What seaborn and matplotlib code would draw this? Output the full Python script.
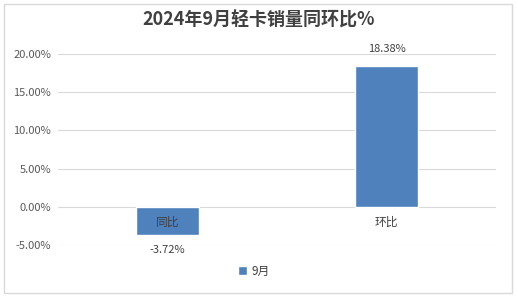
import matplotlib
matplotlib.use("Agg")
import matplotlib.pyplot as plt
import seaborn as sns
import pandas as pd
from matplotlib.patches import Rectangle

categories = ["同比", "环比"]
values = [-3.72, 18.38]
series_name = "9月"
yticks = [-5, 0, 5, 10, 15, 20]
title = "2024年9月轻卡销量同环比%"

sns.set_theme(style="white")
plt.rcParams['font.family'] = ['Noto Sans CJK SC', 'DejaVu Sans']

df = pd.DataFrame({"cat": categories, "val": values, "series": series_name})

fig = plt.figure(figsize=(5.17, 2.97), dpi=100)
fig.patch.set_facecolor("white")
fig.patches.append(Rectangle((4/517, 4/297), 508/517, 289/297, transform=fig.transFigure,
                             fill=False, edgecolor="#D9D9D9", linewidth=1))
ax = fig.add_axes([58/517, 1 - 245/297, 438/517, 191/297])
bar_color = "#4F81BD"
sns.barplot(data=df, x="cat", y="val", hue="series", palette=[bar_color], width=0.29,
            ax=ax, legend=True, saturation=1)

ax.set_ylim(-5, 20)
ax.set_xlim(-0.5, 1.5)
ax.set_yticks(yticks)
ax.set_yticklabels([f"{t:.2f}%" for t in yticks], color="#595959", fontsize=8)
ax.tick_params(axis="y", length=0, pad=5)
ax.yaxis.grid(True, color="#D9D9D9", linewidth=0.8)
ax.set_axisbelow(True)
for s in ax.spines.values():
    s.set_visible(False)
ax.set_xlabel("")
ax.set_ylabel("")
ax.set_xticks([])

for i, (c, v) in enumerate(zip(categories, values)):
    ax.annotate(c, (i, 0), xytext=(0, -11), textcoords="offset points", ha="center", va="center",
                fontsize=8.5, color="#404040")
    if v >= 0:
        ax.annotate(f"{v:.2f}%", (i, v), xytext=(0, 9), textcoords="offset points", ha="center",
                    va="bottom", fontsize=8, color="#404040", annotation_clip=False)
    else:
        ax.annotate(f"{v:.2f}%", (i, v), xytext=(0, -7), textcoords="offset points", ha="center",
                    va="top", fontsize=8, color="#404040", annotation_clip=False)

leg = ax.legend(loc="center", bbox_to_anchor=((254 - 58) / 438, (245 - 271) / 191),
                frameon=False, fontsize=8.5, handlelength=0.8, handleheight=0.8, handletextpad=0.4)
for t in leg.get_texts():
    t.set_color("#404040")

fig.text(0.5, 1 - 20/297, title, ha="center", va="center", fontsize=13, fontweight="bold",
         color="#404040")

fig.savefig("out.png", dpi=100)
